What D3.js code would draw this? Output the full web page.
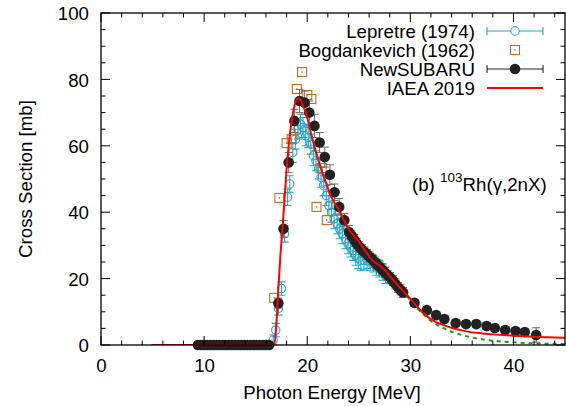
<!DOCTYPE html>
<html>
<head>
<meta charset="utf-8">
<script src="https://cdn.jsdelivr.net/npm/d3@7"></script>
<style>
  html, body { margin: 0; padding: 0; background: #fff; }
  svg { display: block; font-family: "Liberation Sans", Arial, Helvetica, sans-serif; }
</style>
</head>
<body>
<svg id="chart" width="566" height="406"></svg>
<script>
// ---------------- data ----------------
const xTicks = [0, 10, 20, 30, 40];
const yTicks = [0, 20, 40, 60, 80, 100];

// Lepretre (1974)
const lepE   = [16.7, 16.95, 17.2, 17.5, 17.8, 18.1, 18.3, 18.6, 18.85, 19.1, 19.35, 19.6, 19.85, 20.1, 20.35, 20.6, 20.85, 21.1, 21.35, 21.6, 21.85, 22.1, 22.35, 22.6, 22.9, 23.15, 23.4, 23.7, 23.95, 24.2, 24.45, 24.7, 24.95, 25.2, 25.5, 25.8, 26.1, 26.4, 26.7, 27.0, 27.3, 27.6];
const lepY   = [1.5, 4.5, 11, 17, 33.5, 44.5, 48.5, 58, 62, 65, 66.5, 65.5, 63, 62.5, 60.5, 57, 55.5, 53, 50.5, 48, 45, 42, 40, 38, 36.5, 35, 33.5, 32, 30.5, 29.5, 28.5, 27, 26, 25.5, 25.5, 25.5, 25, 24.5, 23.5, 23, 22, 21];
const lepErr = [1.5, 2, 2, 2, 2.5, 2.5, 2.5, 3, 3, 3, 3, 3, 3, 3, 3, 3, 3, 3, 3, 3, 3, 3, 3, 3, 3, 3, 3, 3, 3, 3, 3, 3, 3, 3, 3, 2.5, 2.5, 2.5, 2.5, 2.5, 2.5, 2.5];

// Bogdankevich (1962)
const bogE = [16.8, 17.3, 18.0, 18.5, 19.0, 19.5, 20.0, 20.4, 20.9, 21.4, 21.9];
const bogY = [14.2, 44.3, 60.8, 62.0, 77.1, 82.2, 75.3, 74.1, 41.6, 53.3, 37.6];

// NewSUBARU
const nsE = [9.4, 9.7, 10.0, 10.3, 10.6, 10.9, 11.2, 11.5, 11.8, 12.1, 12.4, 12.7, 13.0, 13.3, 13.6, 13.9, 14.2, 14.5, 14.8, 15.1, 15.4, 15.7, 16.0, 16.3,
             17.2, 17.7, 18.2, 18.75, 19.25, 19.75, 20.2, 20.7, 21.2, 21.7, 22.2, 22.65, 23.1, 23.6, 24.05,
             24.3, 24.55, 24.8, 25.05, 25.3, 25.55, 25.8, 26.05, 26.3, 26.55, 26.8, 27.05, 27.3, 27.55, 27.8, 28.05, 28.3, 28.55, 28.8, 29.05, 29.3,
             30.4, 31.6, 32.5, 33.3, 34.4, 35.4, 36.4, 37.4, 38.2, 39.2, 40.2, 41.1, 42.2];
const nsY = [0, 0, 0, 0, 0, 0, 0, 0, 0, 0, 0, 0, 0, 0, 0, 0, 0, 0, 0, 0, 0, 0, 0, 0,
             12.6, 35, 55, 67.5, 73.5, 73, 70, 66, 61, 56.6, 51.3, 46, 41.6, 37.6, 34,
             33, 31.8, 30.6, 29.6, 28.8, 28, 27.3, 26.5, 25.8, 25, 24.2, 23.5, 22.6, 21.8, 21, 20.3, 19.4, 18.4, 17.4, 16.6, 15.8,
             12.7, 10.5, 9, 7.8, 6.6, 6.3, 6.3, 5.7, 5.1, 4.5, 4.2, 3.9, 3.0];
const nsErr = [0.5, 0.5, 0.5, 0.5, 0.5, 0.5, 0.5, 0.5, 0.5, 0.5, 0.5, 0.5, 0.5, 0.5, 0.5, 0.5, 0.5, 0.5, 0.5, 0.5, 0.5, 0.5, 0.5, 0.5,
             1.5, 2.5, 3, 3.5, 3.5, 3.5, 3.5, 3.5, 3, 3, 3, 2.5, 2.5, 2, 2,
             1.5, 1.5, 1.5, 1.5, 1.5, 1.5, 1.5, 1.5, 1.5, 1.5, 1.5, 1.5, 1.5, 1.5, 1.5, 1.5, 1.5, 1.5, 1.5, 1.5, 1.5,
             1, 1, 1, 1, 1, 1, 1, 1, 1, 1, 1, 1, 2.2];

// IAEA 2019 evaluation
const iaeaE = [4.9, 16.8, 17.0, 17.2, 17.4, 17.6, 17.8, 18.0, 18.2, 18.4, 18.6, 18.8, 19.0, 19.2, 19.4, 19.6, 19.8, 20.0, 20.3, 20.6, 20.9, 21.2, 21.5, 21.8, 22.2, 22.6, 23.1, 23.5, 23.9, 24.5, 25.1, 25.6, 26.2, 27.0, 27.7, 28.0, 28.5, 29.2, 30.1, 30.5, 31.0, 31.5, 32.0, 32.5, 33.0, 34.0, 35.0, 36.0, 37.0, 38.0, 39.0, 40.0, 41.0, 42.0, 43.0, 44.0, 45.0];
const iaeaY = [0, 0, 6, 17, 27, 35, 44, 53, 60, 65.5, 69.5, 72.5, 74, 74.3, 73.5, 72, 70.5, 68.5, 64.5, 61, 57.5, 54.5, 51.5, 49, 45.5, 43, 40.5, 38, 35.5, 33, 30.7, 28.5, 25.8, 24, 22, 20.8, 19, 16.6, 13.6, 12.2, 10.4, 9.0, 7.8, 6.9, 6.2, 5.2, 4.4, 3.8, 3.5, 3.2, 3.0, 2.8, 2.6, 2.45, 2.35, 2.25, 2.2];

// dashed green curve
const greenE = [29.2, 30.0, 31.0, 32.0, 33.0, 34.0, 35.0, 36.0, 37.0, 38.0, 39.0, 40.0, 41.0, 42.0, 43.0, 44.0, 45.0];
const greenY = [16.6, 13.5, 10.0, 7.2, 5.4, 4.0, 3.0, 2.2, 1.7, 1.3, 1.0, 0.8, 0.6, 0.5, 0.4, 0.35, 0.3];

const legendNames = ["Lepretre (1974)", "Bogdankevich (1962)", "NewSUBARU", "IAEA 2019"];

// ---------------- drawing ----------------
const svg = d3.select("#chart");
const L = 101, R = 565, T = 13, B = 345;
const x = d3.scaleLinear().domain([0, 45]).range([L, R]);
const y = d3.scaleLinear().domain([0, 100]).range([B, T]);

const cyan = "#1fa8c8", brown = "#c06a22", red = "#ff0000", green = "#1a9a1a";
const fontSize = 18.7;

const defs = svg.append("defs");
defs.append("clipPath").attr("id", "clip").append("rect")
  .attr("x", L).attr("y", T).attr("width", R - L).attr("height", B - T);

const plot = svg.append("g");
const lines = svg.append("g").attr("clip-path", "url(#clip)");

// Lepretre
const lep = lepE.map((e, i) => ({e, v: lepY[i], s: lepErr[i]}));
const lepG = plot.append("g");
lepG.selectAll("path.eb").data(lep).enter().append("path")
  .attr("fill", "none").attr("stroke", cyan).attr("stroke-width", 1.1)
  .attr("d", d => {
    const cx = x(d.e), y1 = y(d.v - d.s), y2 = y(d.v + d.s);
    return `M${cx},${y1}V${y2}M${cx-4},${y1}H${cx+4}M${cx-4},${y2}H${cx+4}`;
  });
lepG.selectAll("circle").data(lep).enter().append("circle")
  .attr("cx", d => x(d.e)).attr("cy", d => y(d.v)).attr("r", 4.2)
  .attr("fill", "none").attr("stroke", cyan).attr("stroke-width", 1.1);

// Bogdankevich
const bog = bogE.map((e, i) => ({e, v: bogY[i]}));
const bogG = plot.append("g");
bogG.selectAll("rect").data(bog).enter().append("rect")
  .attr("x", d => x(d.e) - 4.5).attr("y", d => y(d.v) - 4.5)
  .attr("width", 9).attr("height", 9)
  .attr("fill", "none").attr("stroke", brown).attr("stroke-width", 1.1);
bogG.selectAll("circle").data(bog).enter().append("circle")
  .attr("cx", d => x(d.e)).attr("cy", d => y(d.v)).attr("r", 0.8)
  .attr("fill", brown);

// green dashed
plot.append("path")
  .datum(greenE.map((e, i) => [e, greenY[i]]))
  .attr("fill", "none").attr("stroke", green).attr("stroke-width", 2)
  .attr("stroke-dasharray", "4,4")
  .attr("d", d3.line().x(d => x(d[0])).y(d => y(d[1])));

// NewSUBARU
const ns = nsE.map((e, i) => ({e, v: nsY[i], s: nsErr[i]}));
const nsG = plot.append("g");
nsG.selectAll("path.eb").data(ns).enter().append("path")
  .attr("fill", "none").attr("stroke", "#6a6a6a").attr("stroke-width", 1)
  .attr("d", d => {
    const cx = x(d.e), y1 = y(d.v - d.s), y2 = y(d.v + d.s);
    return `M${cx},${y1}V${y2}M${cx-4},${y1}H${cx+4}M${cx-4},${y2}H${cx+4}`;
  });
nsG.selectAll("circle").data(ns).enter().append("circle")
  .attr("cx", d => x(d.e)).attr("cy", d => y(d.v)).attr("r", 5.3)
  .attr("fill", "#222");

// IAEA
lines.append("path")
  .datum(iaeaE.map((e, i) => [e, iaeaY[i]]))
  .attr("fill", "none").attr("stroke", red).attr("stroke-width", 2)
  .attr("d", d3.line().curve(d3.curveMonotoneX).x(d => x(d[0])).y(d => y(d[1])));

// ---------------- axes / frame ----------------
const xMinor = d3.range(0, 45.01, 2).filter(v => v % 10 !== 0);
const yMinor = d3.range(0, 100.01, 5).filter(v => v % 20 !== 0);

const bottomAxis = d3.axisBottom(x).tickValues(xTicks).tickSize(0).tickFormat(d3.format("d"));
const gx = svg.append("g").attr("transform", `translate(0,${B})`).call(bottomAxis);
gx.select(".domain").remove();
gx.selectAll("text").attr("font-size", fontSize).attr("font-family", "Liberation Sans, Arial, sans-serif")
  .attr("fill", "#000").attr("dy", "1.3em");

const leftAxis = d3.axisLeft(y).tickValues(yTicks).tickSize(0).tickFormat(d3.format("d"));
const gy = svg.append("g").attr("transform", `translate(${L},0)`).call(leftAxis);
gy.select(".domain").remove();
gy.selectAll("text").attr("font-size", fontSize).attr("font-family", "Liberation Sans, Arial, sans-serif")
  .attr("fill", "#000").attr("x", -12).attr("dy", "0.36em");

// inward ticks on all four sides
const tickG = svg.append("g").attr("stroke", "#000").attr("stroke-width", 1);
xTicks.forEach(v => {
  tickG.append("line").attr("x1", x(v)).attr("x2", x(v)).attr("y1", B).attr("y2", B - 9);
  tickG.append("line").attr("x1", x(v)).attr("x2", x(v)).attr("y1", T).attr("y2", T + 9);
});
xMinor.forEach(v => {
  tickG.append("line").attr("x1", x(v)).attr("x2", x(v)).attr("y1", B).attr("y2", B - 4.5);
  tickG.append("line").attr("x1", x(v)).attr("x2", x(v)).attr("y1", T).attr("y2", T + 4.5);
});
yTicks.forEach(v => {
  tickG.append("line").attr("y1", y(v)).attr("y2", y(v)).attr("x1", L).attr("x2", L + 9);
  tickG.append("line").attr("y1", y(v)).attr("y2", y(v)).attr("x1", R).attr("x2", R - 9);
});
yMinor.forEach(v => {
  tickG.append("line").attr("y1", y(v)).attr("y2", y(v)).attr("x1", L).attr("x2", L + 4.5);
  tickG.append("line").attr("y1", y(v)).attr("y2", y(v)).attr("x1", R).attr("x2", R - 4.5);
});

svg.append("rect").attr("x", L).attr("y", T).attr("width", R - L).attr("height", B - T)
  .attr("fill", "none").attr("stroke", "#000").attr("stroke-width", 1.3);

// axis titles
svg.append("text").attr("x", (L + R) / 2 - 1).attr("y", 399).attr("text-anchor", "middle")
  .attr("font-size", fontSize).text("Photon Energy [MeV]");
svg.append("text").attr("transform", `translate(32,${(T + B) / 2}) rotate(-90)`)
  .attr("text-anchor", "middle").attr("font-size", fontSize).text("Cross Section [mb]");

// annotation
const ann = svg.append("text").attr("x", 412).attr("y", 191).attr("font-size", fontSize);
ann.append("tspan").text("(b) ");
ann.append("tspan").attr("font-size", 13.5).attr("dy", -9).text("103");
ann.append("tspan").attr("dy", 9).text("Rh(γ,2nX)");

// legend
const legG = svg.append("g");
const rowY = [31, 50, 69, 88];
const sx1 = 487, sx2 = 543, sxm = 515;
legendNames.forEach((name, i) => {
  legG.append("text").attr("x", 475).attr("y", rowY[i]).attr("dy", "0.36em")
    .attr("text-anchor", "end").attr("font-size", fontSize).text(name);
});
// Lepretre sample
legG.append("path").attr("fill", "none").attr("stroke", cyan).attr("stroke-width", 1.1)
  .attr("d", `M${sx1},${rowY[0]}H${sx2}M${sx1},${rowY[0]-4}V${rowY[0]+4}M${sx2},${rowY[0]-4}V${rowY[0]+4}`);
legG.append("circle").attr("cx", sxm).attr("cy", rowY[0]).attr("r", 4.2)
  .attr("fill", "#fff").attr("stroke", cyan).attr("stroke-width", 1.1);
// Bogdankevich sample
legG.append("rect").attr("x", sxm - 4.5).attr("y", rowY[1] - 4.5).attr("width", 9).attr("height", 9)
  .attr("fill", "none").attr("stroke", brown).attr("stroke-width", 1.1);
legG.append("circle").attr("cx", sxm).attr("cy", rowY[1]).attr("r", 0.8).attr("fill", brown);
// NewSUBARU sample
legG.append("path").attr("fill", "none").attr("stroke", "#222").attr("stroke-width", 1.1)
  .attr("d", `M${sx1},${rowY[2]}H${sx2}M${sx1},${rowY[2]-4}V${rowY[2]+4}M${sx2},${rowY[2]-4}V${rowY[2]+4}`);
legG.append("circle").attr("cx", sxm).attr("cy", rowY[2]).attr("r", 5.3).attr("fill", "#222");
// IAEA sample
legG.append("line").attr("x1", sx1).attr("x2", sx2).attr("y1", rowY[3]).attr("y2", rowY[3])
  .attr("stroke", red).attr("stroke-width", 2);
</script>
</body>
</html>
